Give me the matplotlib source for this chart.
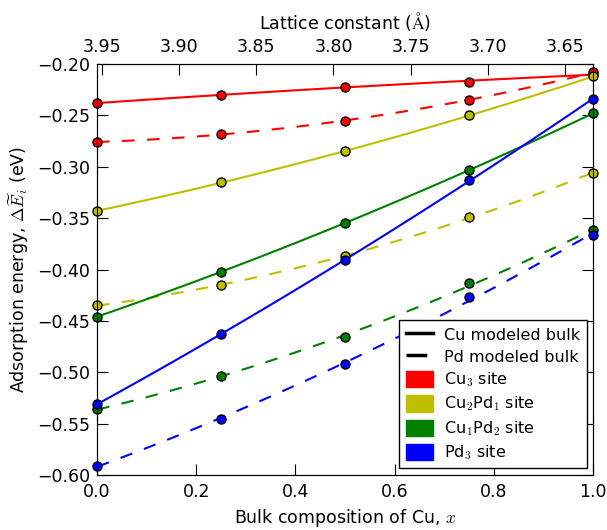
import numpy as np
import matplotlib
matplotlib.use("Agg")
from matplotlib import pyplot as plt
from matplotlib.lines import Line2D
from matplotlib.patches import Patch

plt.rcParams['font.family'] = ['DejaVu Sans']
plt.rcParams['mathtext.fontset'] = 'cm'
plt.rcParams['xtick.direction'] = 'in'
plt.rcParams['ytick.direction'] = 'in'
plt.rcParams['lines.dashed_pattern'] = [6, 6]

# bulk composition of Cu
x = [0.0, 0.25, 0.5, 0.75, 1.0]

# adsorption energies (eV), Cu modeled bulk
cu3_cu = [-0.238, -0.230, -0.222, -0.217, -0.210]
cu2pd1_cu = [-0.343, -0.315, -0.285, -0.250, -0.212]
cu1pd2_cu = [-0.446, -0.402, -0.355, -0.303, -0.248]
pd3_cu = [-0.531, -0.463, -0.391, -0.313, -0.234]

# adsorption energies (eV), Pd modeled bulk
cu3_pd = [-0.276, -0.268, -0.255, -0.235, -0.208]
cu2pd1_pd = [-0.435, -0.415, -0.387, -0.349, -0.306]
cu1pd2_pd = [-0.536, -0.504, -0.466, -0.413, -0.362]
pd3_pd = [-0.591, -0.546, -0.492, -0.427, -0.366]

# lattice constants of pure Pd and pure Cu (Angstrom)
a_pd = 3.953
a_cu = 3.632

site_labels = [r'Cu$_3$ site', r'Cu$_2$Pd$_1$ site',
               r'Cu$_1$Pd$_2$ site', r'Pd$_3$ site']
colors = ['r', (0.75, 0.75, 0.0), (0.0, 0.5, 0.0), 'b']
cu_series = [cu3_cu, cu2pd1_cu, cu1pd2_cu, pd3_cu]
pd_series = [cu3_pd, cu2pd1_pd, cu1pd2_pd, pd3_pd]

fig = plt.figure(figsize=(6.07, 5.30), dpi=100)
ax = fig.add_axes([0.16, 0.104, 0.817, 0.775])

xf = np.linspace(0, 1, 100)
for col, ycu, ypd in zip(colors, cu_series, pd_series):
    # quadratic fits through the computed points
    pcu = np.polyfit(x, ycu, 2)
    ppd = np.polyfit(x, ypd, 2)
    ax.plot(xf, np.polyval(pcu, xf), '-', color=col, lw=1.5)
    ax.plot(xf, np.polyval(ppd, xf), '--', color=col, lw=1.5)
    ax.plot(x, ycu, 'o', color=col, mec='k', mew=1, ms=6.5, clip_on=False, zorder=5)
    ax.plot(x, ypd, 'o', color=col, mec='k', mew=1, ms=6.5, clip_on=False, zorder=5)

ax.set_xlim(0, 1)
ax.set_ylim(-0.60, -0.20)
ax.set_yticks(np.arange(-0.60, -0.19, 0.05))
ax.tick_params(labelsize=12.5, length=8, top=False, right=True)
ax.tick_params(axis='y', pad=5)
ax.tick_params(axis='x', pad=6)
ax.set_xlabel(r'Bulk composition of Cu, $x$', fontsize=12.5)
ax.set_ylabel(r'Adsorption energy, $\Delta\widetilde{E}_i$ (eV)', fontsize=12.5)

ax2 = ax.twiny()
ax2.set_xlim(a_pd, a_cu)
ax2.set_xticks([3.95, 3.90, 3.85, 3.80, 3.75, 3.70, 3.65])
ax2.set_xticklabels(['3.95', '3.90', '3.85', '3.80', '3.75', '3.70', '3.65'])
ax2.tick_params(labelsize=12.5, length=8, direction='in', pad=6)
ax2.set_xlabel(r'Lattice constant ($\mathrm{\AA}$)', fontsize=12.5, labelpad=6)

handles = [Line2D([], [], color='k', ls='-', lw=2.5),
           Line2D([], [], color='k', ls='--', lw=2.5)]
handles += [Patch(facecolor=c, edgecolor=c) for c in colors]
labels = ['Cu modeled bulk', 'Pd modeled bulk'] + site_labels
leg = ax.legend(handles, labels, loc='lower right', fontsize=11.5,
                fancybox=False, framealpha=1, edgecolor='k',
                handlelength=1.7, handletextpad=0.7,
                handleheight=1.2, labelspacing=0.35, borderaxespad=0.4)
leg.get_frame().set_linewidth(1)

fig.savefig('out.png', dpi=100)
